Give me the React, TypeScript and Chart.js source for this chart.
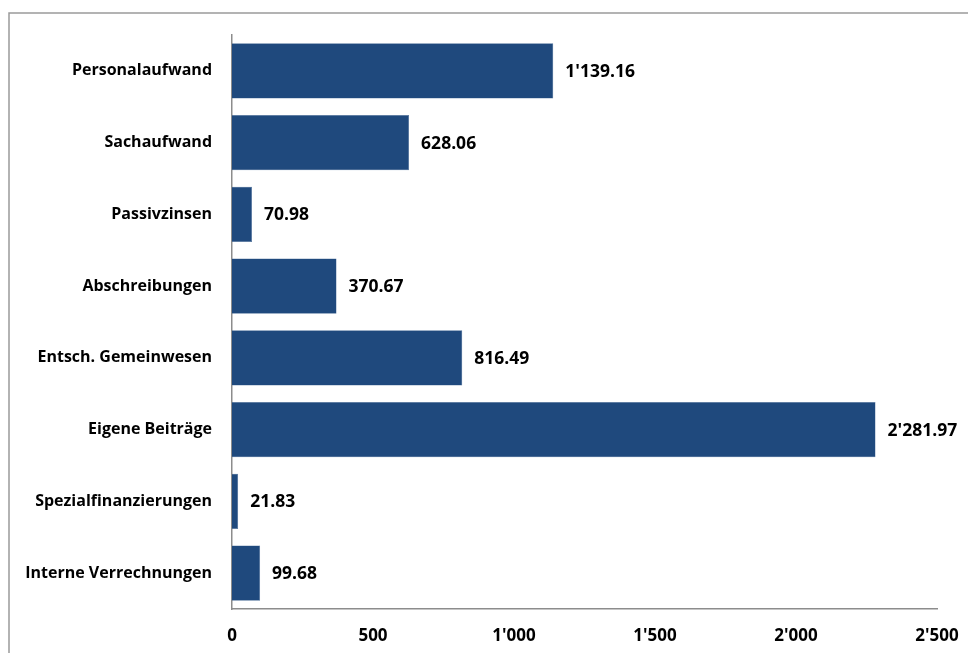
import React, { useEffect, useRef } from "react";
import { Chart, registerables } from "chart.js";

Chart.register(...registerables);

const categories = [
  "Personalaufwand",
  "Sachaufwand",
  "Passivzinsen",
  "Abschreibungen",
  "Entsch. Gemeinwesen",
  "Eigene Beiträge",
  "Spezialfinanzierungen",
  "Interne Verrechnungen",
];
const values = [1139.16, 628.06, 70.98, 370.67, 816.49, 2281.97, 21.83, 99.68];
const xTicks = [0, 500, 1000, 1500, 2000, 2500];

const FONT = "'Open Sans', sans-serif";

function fmt(v: number, decimals: number): string {
  const fixed = v.toFixed(decimals);
  const [intPart, dec] = fixed.split(".");
  const withSep = intPart.replace(/\B(?=(\d{3})+(?!\d))/g, "'");
  return dec !== undefined ? withSep + "." + dec : withSep;
}

const framePlugin = {
  id: "frame",
  beforeDraw(chart: any) {
    const ctx = chart.ctx;
    ctx.save();
    ctx.strokeStyle = "#9a9a9a";
    ctx.lineWidth = 1.5;
    ctx.beginPath();
    ctx.moveTo(9, chart.height);
    ctx.lineTo(9, 13);
    ctx.lineTo(chart.width, 13);
    ctx.stroke();
    ctx.restore();
  },
};

const labelPlugin = {
  id: "barLabels",
  afterDatasetsDraw(chart: any) {
    const ctx = chart.ctx;
    const meta = chart.getDatasetMeta(0);
    ctx.save();
    ctx.font = `bold 17.5px ${FONT}`;
    ctx.fillStyle = "#000";
    ctx.textAlign = "left";
    ctx.textBaseline = "middle";
    meta.data.forEach((bar: any, i: number) => {
      ctx.fillText(fmt(values[i], 2), bar.x + 12, bar.y + 1);
    });
    ctx.restore();
  },
};

export default function App() {
  const ref = useRef<HTMLCanvasElement>(null);
  useEffect(() => {
    if (!ref.current) return;
    const chart = new Chart(ref.current, {
      type: "bar",
      data: {
        labels: categories,
        datasets: [
          {
            data: values,
            backgroundColor: "#1f497d",
            borderColor: "#4a6d99",
            borderWidth: 0.5,
            categoryPercentage: 1,
            barPercentage: 0.77,
          },
        ],
      },
      options: {
        indexAxis: "y",
        animation: false,
        responsive: false,
        layout: { padding: { top: 35, right: 31, left: 0, bottom: 0 } },
        plugins: { legend: { display: false }, tooltip: { enabled: false } },
        scales: {
          x: {
            min: 0,
            max: 2500,
            afterBuildTicks(scale: any) {
              scale.ticks = xTicks.map((v) => ({ value: v }));
            },
            afterFit(scale: any) {
              scale.height = 44;
              scale.paddingRight = 0;
              scale.paddingLeft = 0;
            },
            grid: { display: false, drawTicks: false },
            border: { display: true, color: "#8c8c8c", width: 1.5 },
            ticks: {
              padding: 17,
              color: "#000",
              font: { family: FONT, size: 17, weight: "bold" },
              maxRotation: 0,
              callback: (v: any) => fmt(Number(v), 0),
            },
          },
          y: {
            afterFit(scale: any) {
              scale.width = 232;
            },
            grid: { display: false, drawTicks: false },
            border: { display: true, color: "#8c8c8c", width: 1.5 },
            ticks: {
              padding: 20,
              color: "#000",
              font: { family: FONT, size: 16, weight: "bold" },
            },
          },
        },
      },
      plugins: [framePlugin, labelPlugin],
    });
    return () => chart.destroy();
  }, []);
  return (
    <div style={{ position: "fixed", left: 0, top: 0, width: 968, height: 653, background: "#fff" }}>
      <canvas ref={ref} width={968} height={653} style={{ width: 968, height: 653 }} />
    </div>
  );
}
